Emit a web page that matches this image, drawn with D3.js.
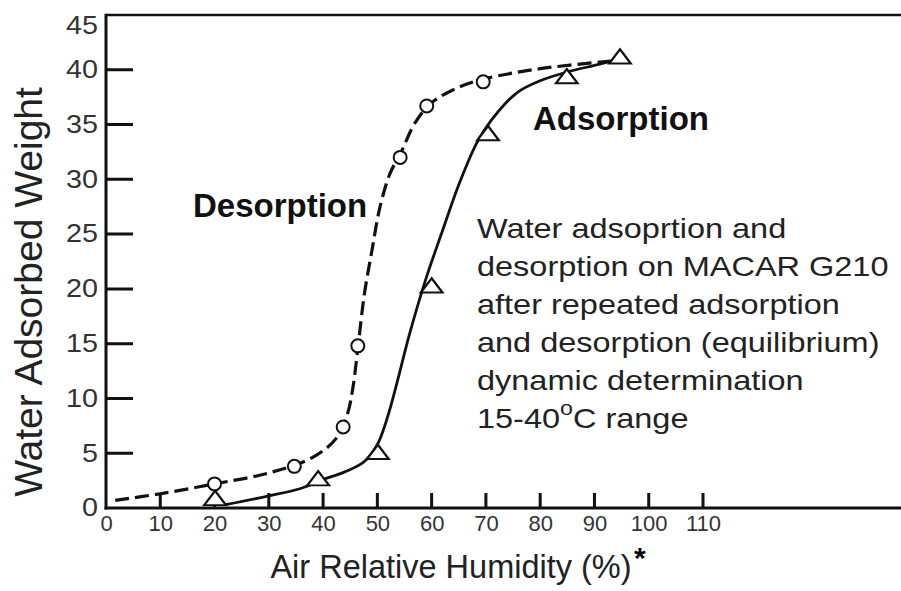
<!DOCTYPE html>
<html>
<head>
<meta charset="utf-8">
<script src="https://cdn.jsdelivr.net/npm/d3@7"></script>
<style>
  html, body { margin: 0; padding: 0; background: #fff; }
  svg { display: block; }
  text { font-family: "Liberation Sans", Arial, Helvetica, sans-serif; }
</style>
</head>
<body>
<svg id="chart" width="901" height="591"></svg>
<script>
// ---- Data ----
const xTickValues = [0, 10, 20, 30, 40, 50, 60, 70, 80, 90, 100, 110];
const yTickValues = [0, 5, 10, 15, 20, 25, 30, 35, 40, 45];

// measured points
const desorptionMarkers = [[20, 2.2], [34.7, 3.8], [43.7, 7.4], [46.4, 14.8], [54.2, 32.0], [59.1, 36.7], [69.5, 38.9]];
const adsorptionMarkers = [[20.1, 0.7], [39.1, 2.5], [50.1, 4.9], [60.0, 20.1], [70.4, 34.0], [84.9, 39.2], [94.7, 41.0]];

// fitted curves
const desorptionCurve = [[1.7, 0.7], [10, 1.3], [20, 2.2], [30, 3.2], [38, 4.6], [42.5, 6.4], [44.5, 8.6], [45.5, 11], [46.5, 15],
  [47.6, 19.5], [49, 23.5], [50.5, 27.5], [52.3, 30.5], [54.2, 32.3], [57, 35.2], [60, 37.0], [65, 38.4], [70, 39.2], [80, 40.1], [93, 40.8]];
const adsorptionCurve = [[22, 0.3], [30, 1.1], [36, 1.8], [40, 2.6], [44, 3.3], [47.5, 4.2], [50, 5.8], [52, 8.5], [53.6, 11.4],
  [56, 16], [59, 21], [62, 25.3], [65, 29.5], [68.3, 33.3], [71, 35.4], [75.7, 37.9], [80, 39.0], [85, 39.8], [90, 40.4], [95, 41.0]];

const yTitle = "Water Adsorbed Weight";
const xTitle = "Air Relative Humidity (%)";
const desorptionLabel = "Desorption";
const adsorptionLabel = "Adsorption";
const noteLines = ["Water adsoprtion and", "desorption on MACAR G210", "after repeated adsorption",
  "and desorption (equilibrium)", "dynamic determination"];

// ---- Layout ----
const W = 901, H = 591;
const svg = d3.select("#chart");
const x = d3.scaleLinear().domain([0, 110]).range([106, 703]);
const y = d3.scaleLinear().domain([0, 45]).range([508, 15]);

// frame: top border extends to the right edge
svg.append("line").attr("x1", x(0)).attr("x2", W).attr("y1", y(45)).attr("y2", y(45))
  .attr("stroke", "#111").attr("stroke-width", 2.5);

// x axis labels (d3 axis)
const gx = svg.append("g").attr("transform", `translate(0,${y(0)})`)
  .call(d3.axisBottom(x).tickValues(xTickValues).tickSize(0).tickPadding(5).tickFormat(d3.format("d")));
gx.select(".domain").remove();
gx.selectAll("text").attr("font-size", 22).attr("fill", "#333").attr("dy", "0.8em")
  .style("font-family", '"Liberation Sans", Arial, sans-serif');

// inward tick marks as one path
const tp = d3.path();
xTickValues.filter(d => d > 0).forEach(d => { tp.moveTo(x(d), y(0)); tp.lineTo(x(d), y(0) - 15); });
yTickValues.filter(d => d > 0 && d < 45).forEach(d => { tp.moveTo(x(0), y(d)); tp.lineTo(x(0) + 27, y(d)); });
svg.append("path").attr("d", tp.toString()).attr("fill", "none")
  .attr("stroke", "#111").attr("stroke-width", 3);

// axis lines
svg.append("line").attr("x1", x(0) - 1.5).attr("x2", W).attr("y1", y(0)).attr("y2", y(0))
  .attr("stroke", "#111").attr("stroke-width", 3);
svg.append("line").attr("x1", x(0)).attr("x2", x(0)).attr("y1", y(45) - 1.2).attr("y2", y(0) + 1.5)
  .attr("stroke", "#111").attr("stroke-width", 3);

// y labels
svg.selectAll("text.ylab").data(yTickValues).join("text").attr("class", "ylab")
  .attr("transform", d => `translate(98,${Math.max(y(d), y(45) + 11)}) scale(1.15,1)`)
  .attr("text-anchor", "end").attr("dominant-baseline", "central")
  .attr("font-size", 25).attr("fill", "#333").text(d => d);

// axis titles
svg.append("text").attr("transform", `translate(42,292) rotate(-90)`)
  .attr("text-anchor", "middle").attr("font-size", 39).attr("fill", "#222").text(yTitle);
svg.append("text").attr("x", 451).attr("y", 578).attr("text-anchor", "middle")
  .attr("font-size", 32.5).attr("fill", "#222").text(xTitle);
svg.append("text").attr("x", 634).attr("y", 568).attr("font-size", 30).attr("font-weight", "bold")
  .attr("fill", "#000").text("*");

// curves
const line = d3.line().x(d => x(d[0])).y(d => y(d[1])).curve(d3.curveCatmullRom.alpha(0.5));
svg.append("path").datum(desorptionCurve).attr("d", line).attr("fill", "none")
  .attr("stroke", "#111").attr("stroke-width", 3.2).attr("stroke-dasharray", "14,6");
svg.append("path").datum(adsorptionCurve).attr("d", line).attr("fill", "none")
  .attr("stroke", "#111").attr("stroke-width", 2.8);

// markers
svg.selectAll("circle.des").data(desorptionMarkers).join("circle").attr("class", "des")
  .attr("cx", d => x(d[0])).attr("cy", d => y(d[1])).attr("r", 6.5)
  .attr("fill", "#fff").attr("stroke", "#111").attr("stroke-width", 2);
const tri = d3.symbol().type(d3.symbolTriangle).size(130);
svg.selectAll("path.ads").data(adsorptionMarkers).join("path").attr("class", "ads")
  .attr("transform", d => `translate(${x(d[0])},${y(d[1])}) scale(1.25,0.95)`)
  .attr("d", tri).attr("fill", "#fff").attr("stroke", "#111").attr("stroke-width", 2);

// series labels
svg.append("text").attr("x", 193).attr("y", 217).attr("font-size", 33).attr("font-weight", "bold")
  .attr("fill", "#111").text(desorptionLabel);
svg.append("text").attr("x", 533).attr("y", 130).attr("font-size", 33).attr("font-weight", "bold")
  .attr("fill", "#111").text(adsorptionLabel);

// note block
const note = svg.append("g").attr("transform", "translate(477,0) scale(1.16,1)");
noteLines.forEach((t, i) => {
  note.append("text").attr("x", 0).attr("y", 238 + i * 38).attr("font-size", 28).attr("fill", "#222").text(t);
});
const last = note.append("text").attr("x", 0).attr("y", 238 + 5 * 38).attr("font-size", 28).attr("fill", "#222");
last.append("tspan").text("15-40");
last.append("tspan").attr("font-size", 20).attr("dy", -13).text("o");
last.append("tspan").attr("dy", 13).text("C range");
</script>
</body>
</html>
